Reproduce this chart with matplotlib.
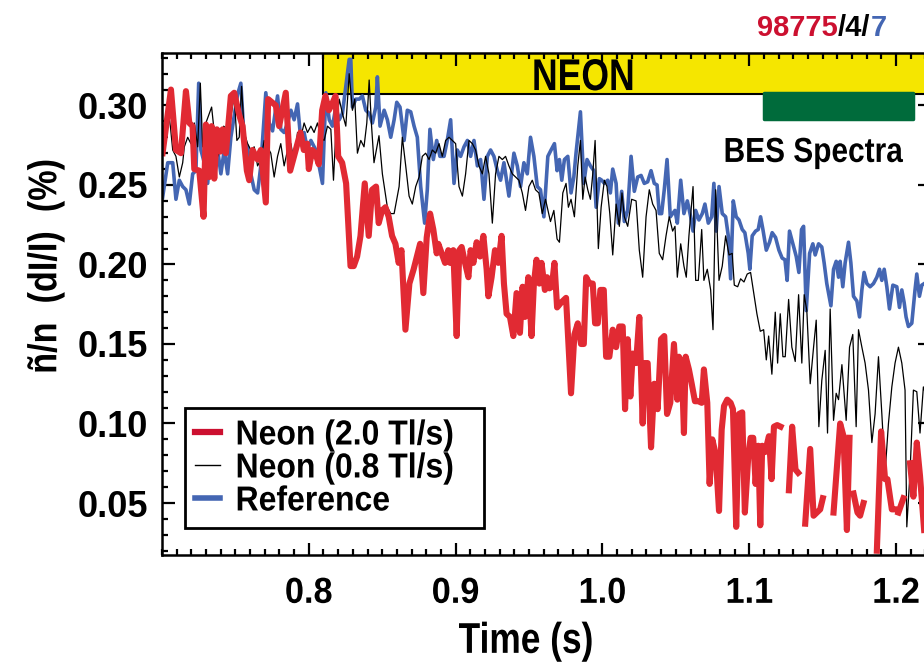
import numpy as np
import matplotlib.pyplot as plt
from matplotlib.lines import Line2D
from matplotlib.patches import Rectangle
from matplotlib.patheffects import AbstractPathEffect
from matplotlib.transforms import Affine2D
from matplotlib.ticker import MultipleLocator, FormatStrFormatter

plt.rcParams['font.family'] = ['Liberation Sans', 'DejaVu Sans']
plt.rcParams['font.weight'] = 'bold'

# fluctuation level vs time, three discharges (NaN = no data)
neon_fast_t = [0.7004, 0.7061, 0.7095, 0.7129, 0.7163, 0.7186, 0.7208, 0.7220, 0.7254, 0.7283,
               0.7299, 0.7322, 0.7338, 0.7356, 0.7374, 0.7397, 0.7413, 0.7435, 0.7469, 0.7492,
               0.7526, 0.7549, 0.7578, 0.7594, 0.7617, 0.7651, 0.7673, 0.7707, 0.7723, 0.7775,
               0.7798, 0.7843, 0.7873, 0.7943, 0.7966, 0.7989, 0.8000, 0.8023, 0.8045, 0.8068,
               0.8091, 0.8113, 0.8136, 0.8159, 0.8182, 0.8200, 0.8227, 0.8254, 0.8284, 0.8306,
               0.8329, 0.8352, 0.8381, 0.8408, 0.8431, 0.8458, 0.8476, 0.8499, 0.8522, 0.8544,
               0.8567, 0.8590, 0.8612, 0.8631, 0.8658, 0.8685, 0.8714, 0.8758, 0.8780, 0.8803,
               0.8826, 0.8848, 0.8871, 0.8882, 0.8905, 0.8928, 0.8950, 0.8962, 0.8984, 0.9007,
               0.9025, 0.9041, 0.9064, 0.9087, 0.9102, 0.9121, 0.9143, 0.9166, 0.9189, 0.9211,
               0.9223, 0.9245, 0.9268, 0.9291, 0.9313, 0.9329, 0.9347, 0.9370, 0.9393, 0.9415,
               0.9438, 0.9456, 0.9472, 0.9495, 0.9517, 0.9533, 0.9551, 0.9570, 0.9585, 0.9608,
               0.9623, 0.9639, 0.9655, 0.9673, 0.9691, 0.9718, 0.9752, 0.9786, 0.9809, 0.9832,
               0.9854, 0.9873, 0.9889, 0.9911, 0.9934, 0.9950, 0.9968, 0.9986, 1.0009, 1.0025,
               1.0047, 1.0070, 1.0093, 1.0115, 1.0138, 1.0154, 1.0172, 1.0190, 1.0206, 1.0229,
               1.0251, 1.0274, 1.0285, 1.0308, 1.0331, 1.0353, 1.0376, 1.0399, 1.0421, 1.0440,
               1.0462, 1.0487, 1.0510, 1.0521, 1.0540, 1.0555, 1.0567, 1.0589, 1.0608, 1.0630,
               1.0653, 1.0676, 1.0691, 1.0714, 1.0730, 1.0748, 1.0771, 1.0794, 1.0812, 1.0828,
               1.0850, 1.0873, 1.0889, 1.0911, 1.0930, 1.0952, 1.0970, 1.0993, 1.1009, 1.1027,
               1.1043, 1.1061, 1.1075, 1.1088, 1.1107, 1.1134, 1.1152, 1.1168, 1.1190, 1.1213,
               1.1240, 1.1270, 1.1292, 1.1315, 1.1333, 1.1357, 1.1381, 1.1415, 1.1438, 1.1460,
               1.1483, 1.1501, 1.1540, 1.1574, 1.1619, 1.1642, 1.1665, 1.1683, 1.1695, 1.1710,
               1.1737, 1.1755, 1.1778, 1.1820, 1.1869, 1.1898, 1.1925, 1.1941, 1.1971, 1.1987,
               1.2000, 1.2016, 1.2050, 1.2070, 1.2095, 1.2118, 1.2141, 1.2163, 1.2191]
neon_fast_v = [0.270, 0.310, 0.272, 0.270, 0.309, 0.289, 0.287, 0.260, 0.259, 0.230,
               0.288, 0.255, 0.287, 0.254, 0.285, 0.271, 0.285, 0.270, 0.306, 0.308,
               0.294, 0.287, 0.259, 0.253, 0.272, 0.266, 0.272, 0.239, 0.304, 0.300,
               0.287, 0.308, 0.259, 0.283, 0.272, 0.276, 0.260, 0.272, 0.270, 0.263,
               0.297, 0.306, 0.297, 0.301, 0.306, 0.268, 0.264, 0.251, 0.199, 0.199,
               0.205, 0.218, 0.251, 0.218, 0.247, 0.249, 0.226, 0.234, 0.236, 0.230,
               0.218, 0.213, 0.201, 0.209, 0.159, 0.188, 0.197, 0.213, 0.182, 0.217,
               0.232, 0.222, 0.207, 0.213, 0.207, 0.201, 0.209, 0.201, 0.209, 0.155,
               0.209, 0.211, 0.201, 0.192, 0.209, 0.201, 0.214, 0.205, 0.218, 0.197,
               0.180, 0.192, 0.209, 0.201, 0.218, 0.188, 0.169, 0.167, 0.155, 0.182,
               0.157, 0.186, 0.167, 0.192, 0.155, 0.188, 0.203, 0.188, 0.201, 0.184,
               0.192, 0.185, 0.186, 0.201, 0.173, 0.176, 0.179, 0.119, 0.156, 0.163,
               0.150, 0.150, 0.192, 0.188, 0.188, 0.163, 0.163, 0.184, 0.184, 0.142,
               0.142, 0.159, 0.148, 0.161, 0.161, 0.109, 0.153, 0.117, 0.144, 0.138,
               0.167, 0.100, 0.138, 0.138, 0.085, 0.125, 0.109, 0.153, 0.155, 0.106,
               0.113, 0.150, 0.115, 0.142, 0.138, 0.094, 0.142, 0.134, 0.125, 0.114,
               0.114, 0.113, 0.134, 0.113, 0.062, 0.090, 0.081, 0.045, 0.096, 0.111,
               0.115, 0.113, 0.109, 0.035, 0.106, 0.107, 0.044, 0.079, 0.091, 0.091,
               0.062, 0.086, 0.036, 0.086, 0.082, 0.092, 0.065, 0.098, 0.099, 0.098,
               np.nan, 0.058, 0.098, 0.071, 0.069, np.nan, 0.037, 0.084, 0.042, 0.044,
               0.046, 0.053, np.nan, 0.044, 0.100, 0.092, 0.033, 0.091, np.nan, 0.056,
               0.044, 0.042, 0.050, np.nan, 0.020, 0.095, 0.065, 0.065, 0.046, 0.046,
               np.nan, 0.044, 0.053, np.nan, 0.075, 0.054, 0.088, 0.067, 0.033]

neon_slow_t = [0.7016, 0.7039, 0.7057, 0.7073, 0.7095, 0.7118, 0.7141, 0.7152, 0.7175, 0.7197,
               0.7220, 0.7243, 0.7261, 0.7277, 0.7299, 0.7322, 0.7338, 0.7356, 0.7379, 0.7401,
               0.7420, 0.7442, 0.7469, 0.7492, 0.7510, 0.7526, 0.7542, 0.7560, 0.7583, 0.7605,
               0.7628, 0.7651, 0.7673, 0.7696, 0.7719, 0.7741, 0.7764, 0.7787, 0.7809, 0.7832,
               0.7855, 0.7878, 0.7900, 0.7923, 0.7946, 0.7968, 0.7991, 0.8014, 0.8036, 0.8059,
               0.8082, 0.8104, 0.8127, 0.8150, 0.8168, 0.8184, 0.8207, 0.8229, 0.8252, 0.8275,
               0.8297, 0.8313, 0.8331, 0.8354, 0.8376, 0.8395, 0.8411, 0.8426, 0.8444, 0.8478,
               0.8501, 0.8524, 0.8535, 0.8558, 0.8581, 0.8615, 0.8637, 0.8660, 0.8683, 0.8705,
               0.8728, 0.8751, 0.8773, 0.8796, 0.8819, 0.8841, 0.8864, 0.8887, 0.8909, 0.8932,
               0.8955, 0.8977, 0.9000, 0.9023, 0.9046, 0.9068, 0.9091, 0.9114, 0.9136, 0.9159,
               0.9182, 0.9204, 0.9227, 0.9250, 0.9272, 0.9295, 0.9318, 0.9340, 0.9363, 0.9386,
               0.9408, 0.9431, 0.9454, 0.9476, 0.9499, 0.9522, 0.9544, 0.9567, 0.9590, 0.9612,
               0.9646, 0.9669, 0.9691, 0.9707, 0.9730, 0.9752, 0.9768, 0.9786, 0.9809, 0.9832,
               0.9850, 0.9866, 0.9882, 0.9900, 0.9918, 0.9934, 0.9950, 0.9972, 0.9991, 1.0013,
               1.0031, 1.0050, 1.0070, 1.0093, 1.0115, 1.0133, 1.0149, 1.0172, 1.0199, 1.0229,
               1.0251, 1.0274, 1.0297, 1.0319, 1.0342, 1.0365, 1.0387, 1.0410, 1.0433, 1.0455,
               1.0478, 1.0494, 1.0510, 1.0533, 1.0555, 1.0571, 1.0589, 1.0617, 1.0635, 1.0653,
               1.0676, 1.0691, 1.0714, 1.0737, 1.0753, 1.0771, 1.0794, 1.0816, 1.0839, 1.0862,
               1.0884, 1.0898, 1.0921, 1.0941, 1.0964, 1.0986, 1.1009, 1.1052, 1.1075, 1.1098,
               1.1116, 1.1132, 1.1154, 1.1177, 1.1193, 1.1211, 1.1229, 1.1245, 1.1268, 1.1290,
               1.1313, 1.1336, 1.1358, 1.1374, 1.1392, 1.1415, 1.1438, 1.1456, 1.1474, 1.1494,
               1.1517, 1.1533, 1.1551, 1.1574, 1.1592, 1.1608, 1.1631, 1.1660, 1.1683, 1.1705,
               1.1728, 1.1744, 1.1767, 1.1789, 1.1812, 1.1835, 1.1857, 1.1880, 1.1903, 1.1925,
               1.1948, 1.1971, 1.1993, 1.2016, 1.2039, 1.2061, 1.2073, 1.2095, 1.2118, 1.2141,
               1.2163, 1.2186, 1.2230]
neon_slow_v = [0.272, 0.299, 0.287, 0.272, 0.268, 0.255, 0.264, 0.274, 0.280, 0.276,
               0.289, 0.274, 0.314, 0.274, 0.289, 0.295, 0.299, 0.283, 0.268, 0.274,
               0.287, 0.285, 0.293, 0.306, 0.278, 0.280, 0.312, 0.283, 0.276, 0.272,
               0.274, 0.262, 0.266, 0.278, 0.274, 0.270, 0.255, 0.268, 0.276, 0.262,
               0.272, 0.276, 0.264, 0.283, 0.280, 0.289, 0.283, 0.287, 0.283, 0.289,
               0.280, 0.278, 0.287, 0.285, 0.253, 0.283, 0.304, 0.295, 0.287, 0.320,
               0.297, 0.304, 0.270, 0.278, 0.274, 0.289, 0.316, 0.289, 0.264, 0.281,
               0.257, 0.243, 0.236, 0.232, 0.232, 0.249, 0.280, 0.262, 0.243, 0.238,
               0.249, 0.255, 0.268, 0.270, 0.266, 0.272, 0.270, 0.276, 0.268, 0.278,
               0.280, 0.278, 0.276, 0.249, 0.243, 0.257, 0.278, 0.276, 0.272, 0.262,
               0.257, 0.268, 0.257, 0.226, 0.257, 0.268, 0.266, 0.268, 0.262, 0.257,
               0.255, 0.253, 0.245, 0.234, 0.249, 0.253, 0.247, 0.245, 0.232, 0.241,
               0.227, 0.234, 0.216, 0.214, 0.245, 0.251, 0.236, 0.241, 0.230, 0.262,
               0.278, 0.241, 0.255, 0.247, 0.241, 0.257, 0.278, 0.210, 0.236, 0.253,
               0.249, 0.232, 0.206, 0.238, 0.224, 0.245, 0.230, 0.224, 0.241, 0.240,
               0.209, 0.192, 0.230, 0.247, 0.238, 0.234, 0.207, 0.203, 0.218, 0.230,
               0.221, 0.224, 0.192, 0.213, 0.199, 0.192, 0.218, 0.249, 0.190, 0.190,
               0.222, 0.190, 0.197, 0.184, 0.159, 0.247, 0.190, 0.199, 0.218, 0.206,
               0.207, 0.187, 0.186, 0.191, 0.189, 0.194, 0.195, 0.169, 0.158, 0.159,
               0.140, 0.155, 0.131, 0.170, 0.138, 0.169, 0.142, 0.142, 0.178, 0.148,
               0.139, 0.181, 0.138, 0.181, 0.171, 0.125, 0.148, 0.165, 0.098, 0.127,
               0.146, 0.094, 0.172, 0.102, 0.119, 0.115, 0.137, 0.102, 0.148, 0.156,
               0.098, 0.159, 0.148, 0.138, 0.121, 0.088, 0.106, 0.142, 0.106, 0.069,
               0.100, 0.123, 0.138, 0.148, 0.138, 0.121, 0.035, 0.069, 0.121, 0.120,
               0.094, 0.123, 0.110]

reference_t = [0.7004, 0.7039, 0.7073, 0.7095, 0.7118, 0.7141, 0.7163, 0.7186, 0.7209, 0.7231,
               0.7250, 0.7265, 0.7288, 0.7311, 0.7333, 0.7356, 0.7379, 0.7401, 0.7424, 0.7447,
               0.7469, 0.7515, 0.7537, 0.7560, 0.7583, 0.7605, 0.7628, 0.7651, 0.7673, 0.7707,
               0.7730, 0.7753, 0.7787, 0.7809, 0.7832, 0.7855, 0.7878, 0.7900, 0.7923, 0.7946,
               0.7968, 0.7991, 0.8014, 0.8048, 0.8070, 0.8093, 0.8116, 0.8139, 0.8161, 0.8184,
               0.8207, 0.8229, 0.8252, 0.8275, 0.8286, 0.8297, 0.8320, 0.8343, 0.8365, 0.8388,
               0.8411, 0.8433, 0.8456, 0.8467, 0.8485, 0.8513, 0.8535, 0.8558, 0.8581, 0.8599,
               0.8621, 0.8649, 0.8671, 0.8694, 0.8717, 0.8739, 0.8762, 0.8789, 0.8807, 0.8825,
               0.8848, 0.8871, 0.8893, 0.8921, 0.8943, 0.8966, 0.8989, 0.9011, 0.9034, 0.9057,
               0.9080, 0.9102, 0.9125, 0.9148, 0.9170, 0.9193, 0.9216, 0.9238, 0.9261, 0.9284,
               0.9306, 0.9329, 0.9363, 0.9397, 0.9420, 0.9442, 0.9465, 0.9488, 0.9510, 0.9533,
               0.9556, 0.9578, 0.9601, 0.9628, 0.9650, 0.9673, 0.9691, 0.9707, 0.9723, 0.9741,
               0.9764, 0.9786, 0.9805, 0.9820, 0.9850, 0.9873, 0.9895, 0.9918, 0.9941, 0.9957,
               0.9979, 0.9995, 1.0013, 1.0036, 1.0054, 1.0070, 1.0093, 1.0108, 1.0131, 1.0149,
               1.0172, 1.0195, 1.0217, 1.0240, 1.0263, 1.0285, 1.0308, 1.0331, 1.0353, 1.0372,
               1.0387, 1.0403, 1.0421, 1.0440, 1.0462, 1.0494, 1.0510, 1.0533, 1.0555, 1.0578,
               1.0601, 1.0617, 1.0635, 1.0657, 1.0680, 1.0698, 1.0721, 1.0744, 1.0759, 1.0775,
               1.0794, 1.0816, 1.0839, 1.0857, 1.0873, 1.0891, 1.0911, 1.0930, 1.0952, 1.0970,
               1.0993, 1.1004, 1.1020, 1.1043, 1.1061, 1.1077, 1.1093, 1.1116, 1.1138, 1.1156,
               1.1179, 1.1202, 1.1224, 1.1243, 1.1258, 1.1274, 1.1297, 1.1320, 1.1338, 1.1356,
               1.1370, 1.1388, 1.1411, 1.1433, 1.1449, 1.1472, 1.1494, 1.1510, 1.1528, 1.1556,
               1.1574, 1.1592, 1.1608, 1.1619, 1.1637, 1.1653, 1.1676, 1.1692, 1.1710, 1.1733,
               1.1751, 1.1767, 1.1782, 1.1801, 1.1823, 1.1846, 1.1869, 1.1887, 1.1903, 1.1919,
               1.1937, 1.1955, 1.1978, 1.2005, 1.2023, 1.2039, 1.2055, 1.2068, 1.2084, 1.2107,
               1.2129, 1.2141, 1.2159, 1.2175, 1.2191, 1.2230]
reference_v = [0.242, 0.264, 0.264, 0.241, 0.253, 0.249, 0.247, 0.238, 0.257, 0.259,
               0.314, 0.272, 0.264, 0.251, 0.274, 0.257, 0.272, 0.257, 0.272, 0.257,
               0.280, 0.307, 0.314, 0.278, 0.274, 0.257, 0.247, 0.245, 0.262, 0.308,
               0.289, 0.284, 0.306, 0.285, 0.283, 0.289, 0.297, 0.291, 0.301, 0.278,
               0.283, 0.272, 0.278, 0.272, 0.262, 0.251, 0.308, 0.291, 0.287, 0.299,
               0.291, 0.295, 0.312, 0.329, 0.329, 0.299, 0.304, 0.304, 0.306, 0.297,
               0.295, 0.289, 0.299, 0.318, 0.287, 0.297, 0.291, 0.280, 0.291, 0.302,
               0.299, 0.278, 0.297, 0.296, 0.287, 0.280, 0.249, 0.226, 0.247, 0.285,
               0.266, 0.278, 0.268, 0.268, 0.278, 0.291, 0.251, 0.272, 0.268, 0.274,
               0.278, 0.268, 0.278, 0.262, 0.266, 0.241, 0.268, 0.272, 0.268, 0.259,
               0.253, 0.264, 0.243, 0.270, 0.262, 0.249, 0.264, 0.257, 0.280, 0.268,
               0.249, 0.247, 0.230, 0.268, 0.272, 0.276, 0.259, 0.266, 0.253, 0.266,
               0.268, 0.245, 0.255, 0.270, 0.296, 0.251, 0.266, 0.262, 0.259, 0.236,
               0.254, 0.253, 0.251, 0.253, 0.245, 0.260, 0.251, 0.226, 0.246, 0.227,
               0.234, 0.268, 0.246, 0.255, 0.256, 0.251, 0.252, 0.259, 0.251, 0.250,
               0.232, 0.232, 0.247, 0.266, 0.230, 0.234, 0.226, 0.253, 0.232, 0.240,
               0.230, 0.221, 0.234, 0.228, 0.232, 0.238, 0.226, 0.230, 0.251, 0.221,
               0.249, 0.232, 0.230, 0.218, 0.191, 0.240, 0.230, 0.228, 0.222, 0.220,
               0.207, 0.197, 0.218, 0.221, 0.222, 0.230, 0.222, 0.209, 0.214, 0.220,
               0.217, 0.209, 0.204, 0.203, 0.190, 0.221, 0.213, 0.205, 0.195, 0.222,
               0.224, 0.171, 0.207, 0.213, 0.206, 0.213, 0.211, 0.201, 0.188, 0.174,
               0.197, 0.202, 0.192, 0.202, 0.186, 0.201, 0.214, 0.201, 0.180, 0.177,
               0.167, 0.184, 0.195, 0.188, 0.186, 0.188, 0.192, 0.197, 0.190, 0.197,
               0.186, 0.172, 0.187, 0.186, 0.173, 0.184, 0.176, 0.167, 0.161, 0.163,
               0.184, 0.194, 0.180, 0.187, 0.188, 0.190]

series_names = ['Neon (2.0 Tl/s)', 'Neon (0.8 Tl/s)', 'Reference']
x_ticks = [0.8, 0.9, 1.0, 1.1, 1.2]
y_ticks = [0.05, 0.10, 0.15, 0.20, 0.25, 0.30]
neon_window = (0.81, 1.30)      # gas puff, runs past the right edge
bes_window = (1.11, 1.2116)     # spectra averaging window
shot_parts = ['98775', '/4/', '7']

red = '#e12a33'
red_dark = '#cc1030'
blue = '#4466b3'
yellow = '#f5e600'
green = '#006b3b'


class Narrow(AbstractPathEffect):
    """Squeeze glyphs sideways about a point of the ink extent (0=left, 1=right)."""

    def __init__(self, sx=0.85, anchor=0.5):
        super().__init__()
        self.sx = sx
        self.anchor = anchor

    def draw_path(self, renderer, gc, tpath, affine, rgbFace=None):
        ext = tpath.get_extents()
        px = ext.x0 + self.anchor * ext.width
        squeeze = Affine2D().translate(-px, 0).scale(self.sx, 1).translate(px, 0)
        renderer.draw_path(gc, tpath, squeeze + affine, rgbFace)


W, H = 924, 667
fig = plt.figure(figsize=(W / 100, H / 100), dpi=100)
ax = fig.add_axes([162 / W, 112 / H, 768 / W, 502 / H])

# NEON puff bar along the top and the BES window marker
ax.add_patch(Rectangle((neon_window[0], 0.3072), neon_window[1] - neon_window[0], 0.05,
                       facecolor=yellow, edgecolor='black', lw=1.5, zorder=1))
ax.add_patch(Rectangle((bes_window[0], 0.2915), bes_window[1] - bes_window[0], 0.0165,
                       facecolor=green, edgecolor=green, lw=2.5, joinstyle='round', zorder=1.5))

ax.plot(reference_t, reference_v, color=blue, lw=2.6, zorder=2)
ax.plot(neon_slow_t, neon_slow_v, color='black', lw=0.9, zorder=2.2)
ax.plot(neon_fast_t, neon_fast_v, color=red, lw=4.4, zorder=2.4)

ax.set_xlim(0.70, 1.2231)
ax.set_ylim(0.0173, 0.333)
ax.set_xticks(x_ticks)
ax.set_yticks(y_ticks)
ax.xaxis.set_major_formatter(FormatStrFormatter('%.1f'))
ax.yaxis.set_major_formatter(FormatStrFormatter('%.2f'))
ax.xaxis.set_minor_locator(MultipleLocator(0.01))
ax.yaxis.set_minor_locator(MultipleLocator(0.01))
ax.tick_params(which='both', direction='in', top=True, right=True, width=1.6, labelsize=26)
ax.tick_params(which='major', length=9)
ax.tick_params(which='minor', length=4.5)
ax.tick_params(axis='y', pad=10)
ax.tick_params(axis='x', pad=15)
for sp in ax.spines.values():
    sp.set_linewidth(1.8)
plt.setp(ax.get_xticklabels(), path_effects=[Narrow(0.95, 0.5)])

ax.text(0.474, -0.173, 'Time (s)', transform=ax.transAxes, ha='center', va='center',
        fontsize=31, path_effects=[Narrow(0.82, 0.5)])
ax.text(-0.152, 0.575, 'ñ/n  (dI/I)  (%)', transform=ax.transAxes, rotation=90,
        ha='center', va='center', fontsize=29, path_effects=[Narrow(0.85, 0.5)])

ax.text(0.9871, 0.3097, 'NEON', ha='center', va='baseline', fontsize=32,
        path_effects=[Narrow(0.8, 0.5)], zorder=3)
ax.text(1.1435, 0.2645, 'BES Spectra', ha='center', va='baseline', fontsize=25,
        path_effects=[Narrow(0.86, 0.5)], zorder=3)

handles = [Line2D([], [], color=red_dark, lw=4.5),
           Line2D([], [], color='black', lw=1.0),
           Line2D([], [], color=blue, lw=4.0)]
leg = ax.legend(handles, series_names, loc='lower left', bbox_to_anchor=(0.030, 0.054),
                borderaxespad=0, fontsize=25, handlelength=0.72, handletextpad=0.43,
                labelspacing=0.0, borderpad=0.3, fancybox=False, framealpha=1,
                edgecolor='black')
leg.get_frame().set_linewidth(2)
for txt in leg.get_texts():
    txt.set_path_effects([Narrow(0.92, 0.0)])

# shot number, coloured like the series it belongs to
renderer = fig.canvas.get_renderer()
x = 757
for part, col in zip(shot_parts, [red_dark, 'black', blue]):
    t = fig.text(x / W, 1 - 36 / H, part, color=col, fontsize=21, ha='left', va='baseline')
    x += t.get_window_extent(renderer).width

fig.savefig('out.png', dpi=100)
